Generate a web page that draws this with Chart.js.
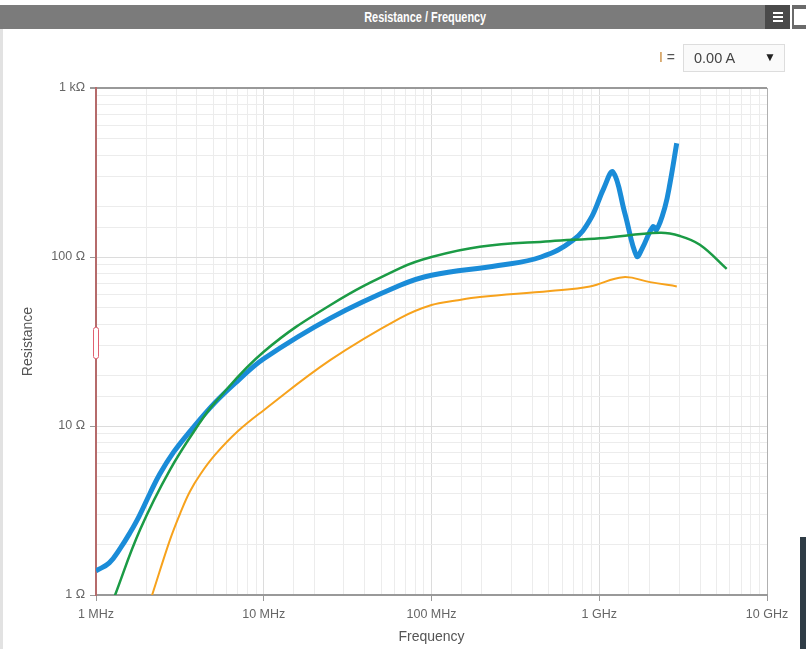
<!DOCTYPE html>
<html lang="en">
<head>
    <meta charset="UTF-8">
    <title>Resistance / Frequency</title>
    <script src="https://cdn.jsdelivr.net/npm/chart.js"></script>
    <style>
        body { margin: 0; background: #fff; font-family: "Liberation Sans", Arial, sans-serif; overflow: hidden; }
        #wrap { position: relative; width: 806px; height: 649px; }
        #chart { position: absolute; left: 0; top: 0; }
        .header { position: absolute; left: 0; top: 5px; width: 765px; height: 24px; background: #7b7b7b; }
        .header span { position: absolute; left: 0; width: 850px; top: 0; height: 24px; text-align: center; line-height: 24px;
                       color: #fff; font: bold 14px "Liberation Sans", sans-serif; }
        .header span b { display: inline-block; transform: scaleX(0.78); vertical-align: top; line-height: 24px; }
        .menu { position: absolute; left: 765px; top: 5px; width: 25px; height: 24px; background: #4a4a4a; }
        .menu i { position: absolute; left: 8px; width: 10px; height: 2px; background: #fff; }
        .menu2 { position: absolute; left: 792px; top: 5px; width: 14px; height: 24px; background: #6a6a6a; }
        .menu2 i { position: absolute; left: 2px; top: 4px; width: 12px; height: 16px; background: #fff; }
        .leftedge { position: absolute; left: 0; top: 29px; width: 3px; height: 620px; background: #e2e2e2; }
        .darkbar { position: absolute; left: 800px; top: 537px; width: 6px; height: 112px; background: #2f3c46; }
        .sel-label { position: absolute; left: 659px; top: 49px; font-size: 14px; color: #555; }
        .sel-label b { color: #c98a3a; font-weight: normal; }
        .select { position: absolute; left: 683px; top: 44px; width: 102px; height: 28px; border: 1px solid #ddd;
                  background: #fafafa; font-size: 14.5px; color: #444; box-sizing: border-box; }
        .select span { position: absolute; left: 10px; top: 5px; }
        .select em { position: absolute; right: 8px; top: 5px; font-style: normal; font-size: 12px; color: #222; }
    </style>
</head>
<body>
<div id="wrap">
    <canvas id="chart" width="806" height="649"></canvas>
    <div class="leftedge"></div>
    <div class="header"><span><b>Resistance / Frequency</b></span></div>
    <div class="menu"><i style="top:7px"></i><i style="top:11px"></i><i style="top:15px"></i></div>
    <div class="menu2"><i></i></div>
    <div class="sel-label"><b>I</b> =</div>
    <div class="select"><span>0.00 A</span><em>&#9660;</em></div>
    <div class="darkbar"></div>
</div>

<script>
    // frequency in MHz, resistance in ohm
    const blueFreq = [1, 1.2, 1.4, 1.6, 1.8, 2.1, 2.4, 2.9, 3.6, 5.1, 7, 10, 25, 65, 100, 250, 450, 700, 881, 1064, 1208, 1422, 1671, 1800, 2089, 2199, 2466, 2642, 2896];
    const blueRes  = [1.39, 1.55, 1.9, 2.35, 2.9, 4.0, 5.2, 7.0, 9.2, 13.7, 18.5, 25, 43.5, 68, 78, 89, 100, 126, 166, 255, 318, 181, 101, 112, 151, 145, 198, 274, 471];

    const greenFreq = [1.2, 1.3, 1.83, 2.76, 4.17, 5.1, 10, 25, 65, 100, 194, 509, 1010, 2300, 3030, 3980, 5750];
    const greenRes  = [0.8, 1.0, 2.43, 5.5, 10.5, 13.7, 27.5, 52, 86, 100, 115, 124, 129, 139, 133, 118, 85];

    const orangeFreq = [2.0, 2.16, 2.76, 3.2, 3.63, 4.2, 5.12, 7, 10, 25, 65, 100, 140, 194, 509, 880, 1390, 2010, 2900];
    const orangeRes  = [0.8, 1.0, 2.12, 3.1, 4.1, 5.2, 6.74, 9.3, 12.4, 24.6, 43.5, 52, 55.3, 58, 63, 67, 76, 71, 67];

    const freqTicks = {1: '1 MHz', 10: '10 MHz', 100: '100 MHz', 1000: '1 GHz', 10000: '10 GHz'};
    const resTicks = {1: '1 Ω', 10: '10 Ω', 100: '100 Ω', 1000: '1 kΩ'};

    function pts(xs, ys) {
        return xs.map((x, i) => ({x: x, y: ys[i]}));
    }

    function isDecade(v) {
        const l = Math.log10(v);
        return Math.abs(l - Math.round(l)) < 1e-6;
    }

    // little drag handle on the y axis
    const handlePlugin = {
        id: 'handle',
        afterDraw(chart) {
            const ctx = chart.ctx;
            const a = chart.chartArea;
            ctx.save();
            ctx.strokeStyle = '#e06070';
            ctx.fillStyle = '#fff';
            ctx.lineWidth = 1;
            ctx.beginPath();
            ctx.roundRect(a.left - 2.5, 327.5, 5, 31, 2);
            ctx.fill();
            ctx.stroke();
            ctx.restore();
        }
    };

    const tickFont = {family: 'Liberation Sans', size: 12.5};

    new Chart(document.getElementById('chart'), {
        type: 'line',
        data: {
            datasets: [
                { data: pts(orangeFreq, orangeRes), borderColor: '#f7a21c', borderWidth: 2, tension: 0.4 },
                { data: pts(greenFreq, greenRes), borderColor: '#1b9b45', borderWidth: 2.5, tension: 0.4 },
                { data: pts(blueFreq, blueRes), borderColor: '#1a8cd8', borderWidth: 5, tension: 0.4 }
            ]
        },
        options: {
            responsive: false,
            animation: false,
            elements: { point: { radius: 0 } },
            layout: { padding: { left: 0, right: 39, top: 88, bottom: 0 } },
            plugins: { legend: { display: false }, tooltip: { enabled: false } },
            scales: {
                x: {
                    type: 'logarithmic',
                    min: 1, max: 10000,
                    afterFit: s => { s.height = 54; },
                    border: { color: '#999', width: 2 },
                    grid: {
                        color: c => c.tick && c.tick.value === 10000 ? '#b0b0b0' : (c.tick && isDecade(c.tick.value) ? '#dcdcdc' : '#ececec'),
                        tickColor: c => c.tick && isDecade(c.tick.value) ? '#999' : 'rgba(0,0,0,0)',
                        tickLength: 6
                    },
                    ticks: {
                        autoSkip: false, maxRotation: 0, padding: 6, color: '#666', font: tickFont,
                        callback: v => freqTicks[v] || ''
                    },
                    title: { display: true, text: 'Frequency', color: '#555', font: {family: 'Liberation Sans', size: 14}, padding: {top: 4, bottom: 3} }
                },
                y: {
                    type: 'logarithmic',
                    min: 1, max: 1000,
                    afterFit: s => { s.width = 96; },
                    border: { color: '#b56b6b', width: 2 },
                    grid: {
                        color: c => c.tick && c.tick.value === 1000 ? '#999' : (c.tick && isDecade(c.tick.value) ? '#dcdcdc' : '#ececec'),
                        tickColor: c => c.tick && isDecade(c.tick.value) ? '#999' : 'rgba(0,0,0,0)',
                        tickLength: 6,
                        lineWidth: c => c.tick && c.tick.value === 1000 ? 2 : 1
                    },
                    ticks: {
                        autoSkip: false, padding: 5, color: '#666', font: tickFont,
                        callback: v => resTicks[v] || ''
                    },
                    title: { display: true, text: 'Resistance', color: '#555', font: {family: 'Liberation Sans', size: 14}, padding: {top: 20, bottom: 0} }
                }
            }
        },
        plugins: [handlePlugin]
    });
</script>
</body>
</html>
